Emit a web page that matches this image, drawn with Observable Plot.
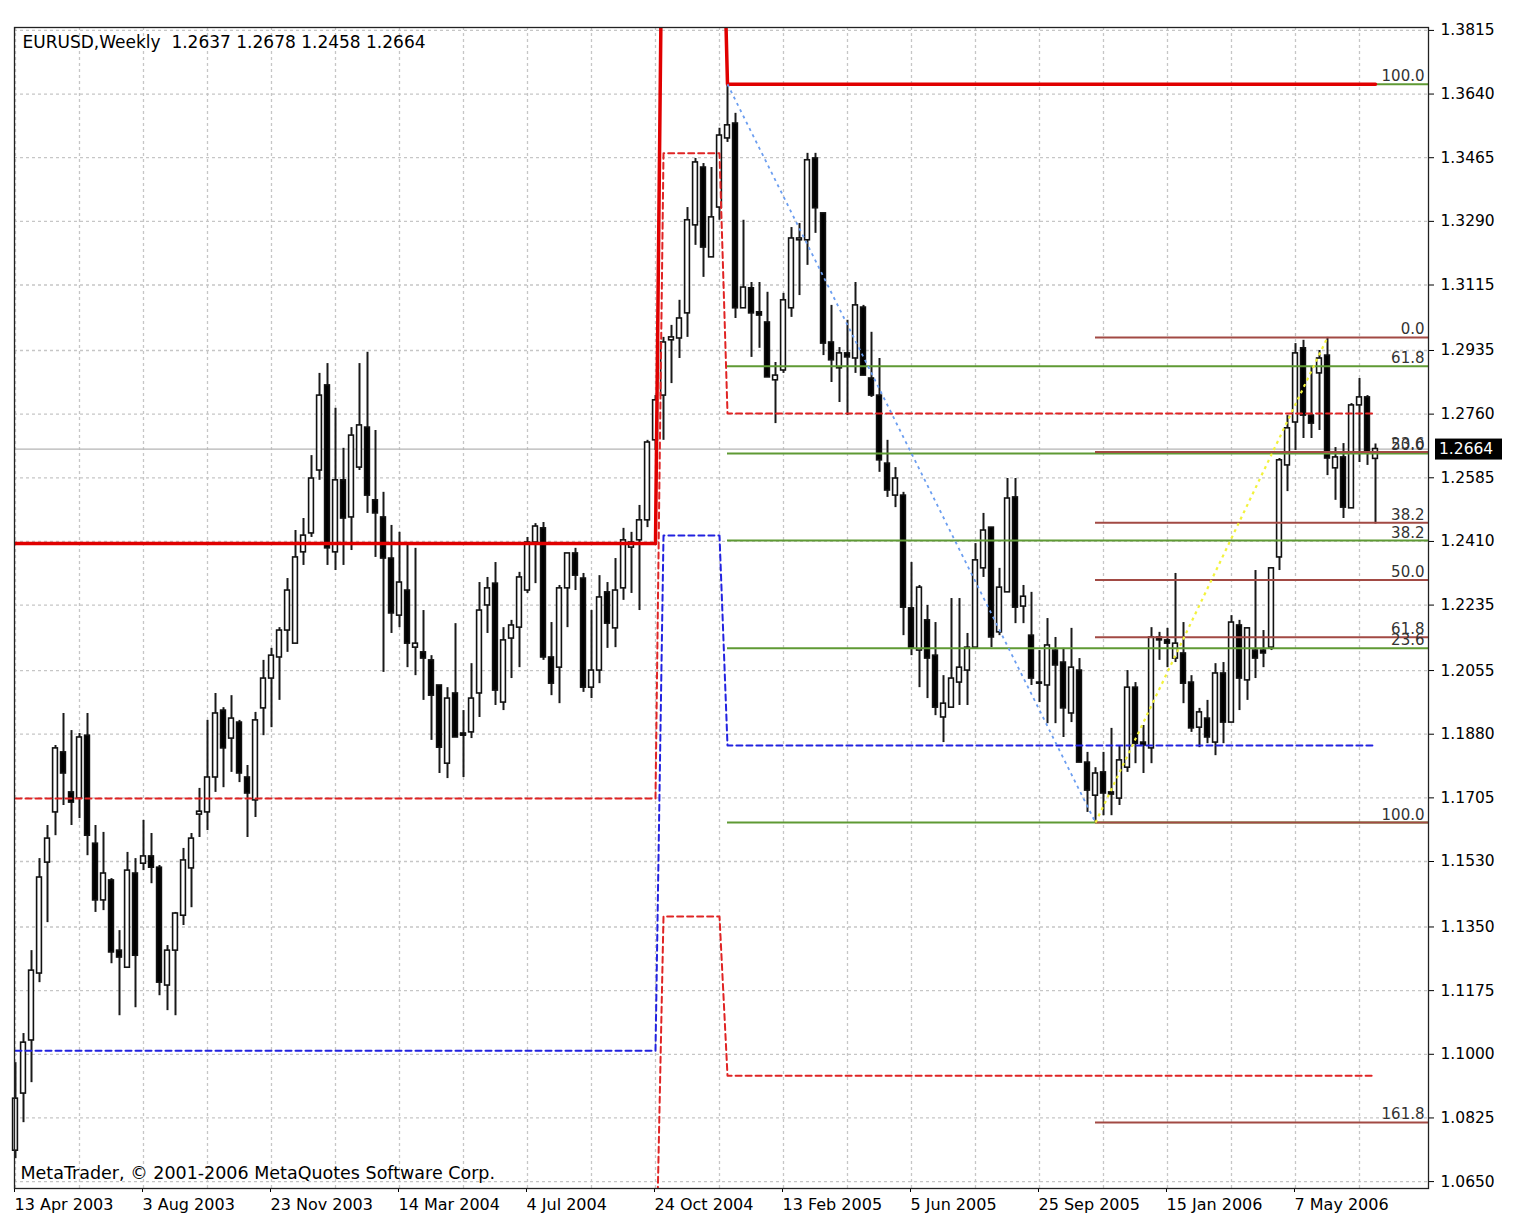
<!DOCTYPE html>
<html><head><meta charset="utf-8">
<script src="https://cdn.jsdelivr.net/npm/d3@7"></script>
<script src="https://cdn.jsdelivr.net/npm/@observablehq/plot@0.6"></script>
<style>
html,body{margin:0;padding:0;background:#fff;}
#chart{width:1538px;height:1227px;}
</style></head><body><div id="chart"></div>
<script>
// ---------- data ----------
const symbolTitle = "EURUSD,Weekly";
const footerText = "MetaTrader, \u00a9 2001-2006 MetaQuotes Software Corp.";
const weekStart = "2003-04-13";

const open = [
1.0735,1.0892,1.1038,1.1222,1.1527,1.1665,1.1830,1.1720,1.1703,1.1876,
1.1579,1.1423,1.1478,1.1285,1.1238,1.1497,1.1524,1.1544,1.1513,1.1189,
1.1285,1.1381,1.1511,1.1659,1.1665,1.1761,1.1945,1.1868,1.1912,1.1761,
1.1698,1.1951,1.2033,1.2091,1.2165,1.2129,1.2380,1.2432,1.2605,1.2839,
1.2380,1.2578,1.2476,1.2613,1.2723,1.2523,1.2476,1.2363,1.2206,1.2275,
1.2118,1.2105,1.2083,1.2014,1.1799,1.1992,1.1882,1.1885,1.1992,1.2234,
1.2294,1.1967,1.2143,1.2173,1.2275,1.2407,1.2446,1.2091,1.2063,1.2281,
1.2377,1.2308,1.2008,1.2055,1.2270,1.2171,1.2281,1.2393,1.2413,1.2468,
1.2688,1.2811,1.2963,1.2968,1.3037,1.3279,1.3438,1.3191,1.3328,1.3518,
1.3559,1.3051,1.3106,1.3040,1.3012,1.2853,1.2880,1.3051,1.3238,1.3238,
1.3463,1.3312,1.2957,1.2886,1.2927,1.2913,1.3053,1.2858,1.2811,1.2624,
1.2536,1.2536,1.2226,1.2110,1.2193,1.2096,1.1926,1.1953,1.2022,1.2055,
1.2118,1.2336,1.2448,1.2160,1.2270,1.2531,1.2231,1.2151,1.2022,1.2014,
1.2110,1.2077,1.1937,1.2055,1.1802,1.1711,1.1775,1.1720,1.1703,1.1788,
1.2008,1.1857,1.1841,1.2146,1.2138,1.2088,1.2102,1.2022,1.1898,1.1923,
1.1857,1.2047,1.1912,1.2179,1.2028,1.2110,1.2110,1.2118,1.2366,1.2619,
1.2737,1.2941,1.2756,1.2872,1.2921,1.2611,1.2641,1.2501,1.2784,1.2806,
1.2637];
const high = [
1.0977,1.1057,1.1285,1.1538,1.1629,1.1849,1.1937,1.1890,1.1882,1.1937,
1.1629,1.1610,1.1483,1.1340,1.1555,1.1538,1.1643,1.1607,1.1519,1.1299,
1.1390,1.1566,1.1607,1.1731,1.1918,1.1992,1.1953,1.1986,1.1918,1.1794,
1.1940,1.2083,1.2116,1.2173,1.2308,1.2440,1.2473,1.2646,1.2872,1.2899,
1.2776,1.2666,1.2723,1.2899,1.2930,1.2715,1.2545,1.2454,1.2435,1.2404,
1.2391,1.2220,1.2096,1.2014,1.2008,1.2184,1.1945,1.2074,1.2297,1.2311,
1.2352,1.2173,1.2193,1.2325,1.2421,1.2459,1.2462,1.2187,1.2289,1.2377,
1.2391,1.2322,1.2220,1.2316,1.2297,1.2363,1.2446,1.2435,1.2509,1.2688,
1.2811,1.2971,1.3004,1.3073,1.3328,1.3463,1.3449,1.3438,1.3546,1.3667,
1.3587,1.3293,1.3122,1.3122,1.3095,1.2902,1.3092,1.3273,1.3284,1.3477,
1.3477,1.3312,1.3059,1.2943,1.3018,1.3122,1.3059,1.2985,1.2913,1.2688,
1.2613,1.2545,1.2352,1.2289,1.2234,1.2187,1.2041,1.2253,1.2253,1.2157,
1.2404,1.2487,1.2448,1.2336,1.2583,1.2583,1.2289,1.2270,1.2110,1.2198,
1.2146,1.2116,1.2171,1.2088,1.1830,1.1788,1.1830,1.1896,1.1849,1.2055,
1.2022,1.1904,1.2173,1.2160,1.2171,1.2322,1.2187,1.2041,1.1951,1.1973,
1.2074,1.2077,1.2206,1.2193,1.2173,1.2330,1.2165,1.2338,1.2638,1.2756,
1.2954,1.2963,1.2888,1.2935,1.2971,1.2668,1.2679,1.2789,1.2858,1.2811,
1.2678];
const low = [
1.0713,1.0812,1.0922,1.1197,1.1362,1.1601,1.1684,1.1629,1.1648,1.1546,
1.1390,1.1395,1.1249,1.1106,1.1238,1.1128,1.1505,1.1469,1.1161,1.1120,
1.1106,1.1354,1.1403,1.1596,1.1615,1.1720,1.1733,1.1775,1.1747,1.1596,
1.1651,1.1876,1.1898,1.1973,1.2105,1.2129,1.2344,1.2421,1.2578,1.2344,
1.2330,1.2344,1.2385,1.2605,1.2487,1.2366,1.2050,1.2157,1.2173,1.2063,
1.2041,1.1973,1.1863,1.1772,1.1758,1.1871,1.1761,1.1868,1.1926,1.2157,
1.1959,1.1945,1.2033,1.2063,1.2267,1.2294,1.2083,1.1986,1.1964,1.2173,
1.2275,1.1995,1.1978,1.2019,1.2116,1.2118,1.2248,1.2267,1.2220,1.2448,
1.2660,1.2688,1.2844,1.2913,1.2971,1.3224,1.3136,1.3191,1.3293,1.3507,
1.3023,1.3051,1.2916,1.2941,1.2861,1.2734,1.2872,1.3026,1.3086,1.3169,
1.3257,1.2921,1.2847,1.2792,1.2756,1.2872,1.2866,1.2806,1.2600,1.2531,
1.2503,1.2151,1.2096,1.2008,1.1978,1.1931,1.1857,1.1953,1.1959,1.1959,
1.2118,1.2311,1.2118,1.2151,1.2270,1.2184,1.2184,1.2014,1.1967,1.1909,
1.1909,1.1871,1.1912,1.1802,1.1665,1.1637,1.1656,1.1656,1.1684,1.1775,
1.1799,1.1772,1.1799,1.2083,1.2063,1.2077,1.1964,1.1885,1.1843,1.1854,
1.1821,1.1854,1.1912,1.1945,1.1973,1.2033,1.2063,1.2110,1.2330,1.2547,
1.2660,1.2693,1.2693,1.2715,1.2591,1.2523,1.2473,1.2501,1.2627,1.2619,
1.2458];
const close = [
1.0878,1.1032,1.1230,1.1486,1.1593,1.1841,1.1772,1.1692,1.1871,1.1601,
1.1423,1.1497,1.1280,1.1266,1.1505,1.1271,1.1544,1.1513,1.1197,1.1285,
1.1387,1.1533,1.1593,1.1667,1.1761,1.1937,1.1841,1.1923,1.1772,1.1717,
1.1918,1.2033,1.2096,1.2165,1.2275,1.2366,1.2426,1.2583,1.2811,1.2391,
1.2578,1.2473,1.2701,1.2729,1.2536,1.2487,1.2363,1.2212,1.2297,1.2129,
1.2129,1.2088,1.1986,1.1843,1.1978,1.1871,1.1876,1.1978,1.2220,1.2281,
1.2000,1.2138,1.2179,1.2311,1.2407,1.2451,1.2091,1.2019,1.2281,1.2377,
1.2316,1.2008,1.2055,1.2256,1.2184,1.2275,1.2413,1.2407,1.2468,1.2682,
1.2798,1.2957,1.2971,1.3023,1.3293,1.3452,1.3218,1.3301,1.3526,1.3554,
1.3051,1.3108,1.3037,1.3031,1.2861,1.2866,1.3073,1.3243,1.3243,1.3458,
1.3326,1.2954,1.2908,1.2927,1.2916,1.3059,1.2866,1.2811,1.2633,1.2550,
1.2583,1.2228,1.2116,1.2283,1.2088,1.1953,1.1964,1.2033,1.2063,1.2118,
1.2358,1.2440,1.2146,1.2283,1.2528,1.2228,1.2258,1.2033,1.2019,1.2124,
1.2069,1.1951,1.2063,1.1802,1.1725,1.1772,1.1717,1.1714,1.1808,1.2008,
1.1854,1.1849,1.2146,1.2138,1.2129,1.2129,1.2019,1.1896,1.1940,1.1871,
1.2047,1.1912,1.2187,1.2033,1.2171,1.2088,1.2102,1.2336,1.2633,1.2721,
1.2927,1.2756,1.2734,1.2913,1.2638,1.2641,1.2503,1.2784,1.2806,1.2652,
1.2664];

const yTicks = [1.3815,1.3640,1.3465,1.3290,1.3115,1.2935,1.2760,1.2585,1.2410,1.2235,
                1.2055,1.1880,1.1705,1.1530,1.1350,1.1175,1.1000,1.0825,1.0650];
const dateTickWeeks = [0,16,32,48,64,80,96,112,128,144,160];
const gridWeeks = [0,8,16,24,32,40,48,56,64,72,80,88,96,104,112,120,128,136,144,152,160,168];

// indicator step bands (value per period, period start bar)
const bandStarts = [0, 81, 89];
const bandTop   = [1.2404, 1.4528, 1.3667];
const bandUpper = [1.1703, 1.3477, 1.2762];
const bandMid   = [1.1010, 1.2426, 1.1849];
const bandLower = [1.0317, 1.1379, 1.0941];

// Fibonacci objects: first anchor, second anchor
const fibGreen = {bar1: 89, price1: 1.3667, bar2: 135, price2: 1.1637};
const fibBrown = {bar1: 135, price1: 1.1637, bar2: 164, price2: 1.2971};
const fibGreenLevels = [0, 23.6, 38.2, 50, 61.8, 100];
const fibBrownLevels = [0, 23.6, 38.2, 50, 61.8, 100, 161.8];

// ---------- build ----------
const DAY = 864e5;
const t0 = new Date(weekStart + "T00:00:00Z").getTime();
const dateOf = w => new Date(t0 + w * 7 * DAY);
const half = 0.3 * 7 * DAY;
const bars = open.map((o, i) => ({date: dateOf(i), open: o, high: high[i], low: low[i], close: close[i]}));
const upBars = bars.filter(d => d.close >= d.open);
const downBars = bars.filter(d => d.close < d.open);
const xDomain = [dateOf(-0.125), dateOf(176.625)];

function band(vals) {
  return bars.map((b, i) => {
    let k = 0;
    bandStarts.forEach((s, j) => { if (i >= s) k = j; });
    return {date: b.date, value: vals[k]};
  });
}
function fibRows(f, levels) {
  return levels.map(l => ({
    level: l,
    label: l.toFixed(1),
    price: f.price2 + (f.price1 - f.price2) * l / 100,
    x1: dateOf(f.bar1),
    x2: xDomain[1]
  }));
}
const greenRows = fibRows(fibGreen, fibGreenLevels);
const brownRows = fibRows(fibBrown, fibBrownLevels);
// the green 0.0 label sits exactly under the brown 100.0 label
const greenLabels = greenRows.filter(d => d.level !== 0);
const last = bars[bars.length - 1];
const header = `${symbolTitle}\u00a0\u00a0${last.open.toFixed(4)} ${last.high.toFixed(4)} ${last.low.toFixed(4)} ${last.close.toFixed(4)}`;

const GREEN = "#5f9a34", BROWN = "#a24a44", GRID = "#c6c6c6";

const chart = Plot.plot({
  width: 1538, height: 1227,
  marginTop: 27, marginBottom: 39, marginLeft: 14, marginRight: 110,
  style: {fontFamily: "'DejaVu Sans', sans-serif", fontSize: "16px", background: "white", color: "black"},
  x: {type: "utc", domain: xDomain},
  y: {domain: [1.0631, 1.3823]},
  marks: [
    Plot.gridY(yTicks, {stroke: GRID, strokeOpacity: 1, strokeDasharray: "3,3", strokeWidth: 1.3}),
    Plot.gridX(gridWeeks.map(dateOf), {stroke: GRID, strokeOpacity: 1, strokeDasharray: "3,3", strokeWidth: 1.3}),
    Plot.ruleY([last.close], {stroke: "#b4b4b4", strokeWidth: 1.3}),
    // candles
    Plot.ruleX(bars, {x: "date", y1: "low", y2: "high", stroke: "#1a1a1a", strokeWidth: 2}),
    Plot.rect(upBars, {x1: d => new Date(+d.date - half), x2: d => new Date(+d.date + half), y1: "open", y2: "close", fill: "white", stroke: "#111", strokeWidth: 1.6}),
    Plot.rect(downBars, {x1: d => new Date(+d.date - half), x2: d => new Date(+d.date + half), y1: "open", y2: "close", fill: "black", stroke: "#111", strokeWidth: 1.6}),
    // indicator bands
    Plot.line(band(bandUpper), {x: "date", y: "value", stroke: "#e02424", strokeWidth: 2, strokeDasharray: "6,4", clip: true}),
    Plot.line(band(bandLower), {x: "date", y: "value", stroke: "#e02424", strokeWidth: 2, strokeDasharray: "6,4", clip: true}),
    Plot.line(band(bandMid), {x: "date", y: "value", stroke: "#2222e0", strokeWidth: 2, strokeDasharray: "6,4", clip: true}),
    // fibonacci objects
    Plot.ruleY(greenRows, {y: "price", x1: "x1", x2: "x2", stroke: GREEN, strokeWidth: 2}),
    Plot.ruleY(brownRows, {y: "price", x1: "x1", x2: "x2", stroke: BROWN, strokeWidth: 2}),
    Plot.line(band(bandTop), {x: "date", y: "value", stroke: "#e00000", strokeWidth: 3.5, clip: true}),
    Plot.link([fibGreen], {x1: d => dateOf(d.bar1), y1: "price1", x2: d => dateOf(d.bar2), y2: "price2", stroke: "#6c9ef0", strokeWidth: 1.8, strokeDasharray: "3,4"}),
    Plot.link([fibBrown], {x1: d => dateOf(d.bar1), y1: "price1", x2: d => dateOf(d.bar2), y2: "price2", stroke: "#f2f23c", strokeWidth: 2.2, strokeDasharray: "3,4"}),
    Plot.text(greenLabels, {y: "price", text: "label", frameAnchor: "right", textAnchor: "end", lineAnchor: "bottom", dx: -4, dy: -3, fontSize: 15, fill: "#333"}),
    Plot.text(brownRows, {y: "price", text: "label", frameAnchor: "right", textAnchor: "end", lineAnchor: "bottom", dx: -4, dy: -3, fontSize: 15, fill: "#333"}),
    // texts
    Plot.text([header], {frameAnchor: "top-left", dx: 8, dy: 8, fontSize: 17, fill: "black"}),
    Plot.text([footerText], {frameAnchor: "bottom-left", dx: 6, dy: -10, fontSize: 17.5, fill: "black"}),
    // axes
    Plot.axisY(yTicks, {anchor: "right", tickSize: 5, tickPadding: 7, tickFormat: d => d.toFixed(4), fontSize: 15.5}),
    Plot.axisX(dateTickWeeks.map(dateOf), {anchor: "bottom", tickSize: 4, tickPadding: 6, textAnchor: "start", dx: -1, tickFormat: d3.utcFormat("%-d %b %Y"), fontSize: 16}),
    Plot.frame({stroke: "#222", strokeWidth: 1.3})
  ]
});
document.getElementById("chart").appendChild(chart);

// current price label box on the right axis
const ys = chart.scale("y"), xs = chart.scale("x");
const yy = ys.apply(last.close), xr = xs.range[1];
const svg = d3.select(chart);
svg.append("rect").attr("x", xr + 7).attr("y", yy - 10).attr("width", 67).attr("height", 21).attr("fill", "black");
svg.append("text").attr("x", xr + 11).attr("y", yy).attr("dy", "0.36em").attr("fill", "white")
   .attr("text-anchor", "start").attr("font-size", 15.5)
   .attr("font-family", "'DejaVu Sans', sans-serif").text(last.close.toFixed(4));
</script>
</body></html>
